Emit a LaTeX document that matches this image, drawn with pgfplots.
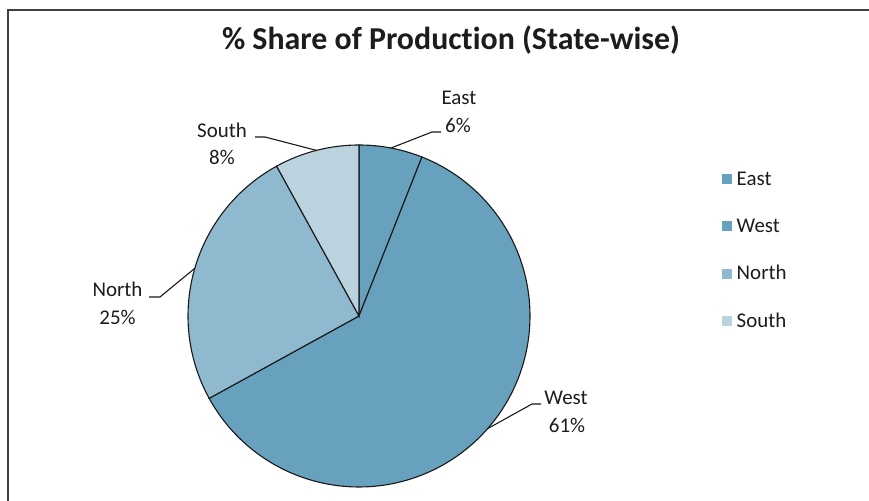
\documentclass[border=0pt]{standalone}
\usepackage{pgfplots}
\pgfplotsset{compat=1.18}
\usepackage{fontspec}
\setmainfont{Carlito}[Ligatures=NoCommon]
\definecolor{eastc}{RGB}{104,161,189}
\definecolor{westc}{RGB}{104,161,189}
\definecolor{northc}{RGB}{143,185,206}
\definecolor{southc}{RGB}{187,210,223}
\definecolor{txt}{RGB}{28,28,28}
% data (percent share)
\def\vEast{6}
\def\vWest{61}
\def\vNorth{25}
\def\vSouth{8}
\pgfmathsetmacro{\aA}{90}
\pgfmathsetmacro{\aB}{\aA-3.6*\vEast}
\pgfmathsetmacro{\aC}{\aB-3.6*\vWest}
\pgfmathsetmacro{\aD}{\aC-3.6*\vNorth}
\pgfmathsetmacro{\aE}{\aD-3.6*\vSouth}
\begin{document}
\begin{tikzpicture}
\begin{axis}[
  width=869bp, height=501bp, scale only axis,
  xmin=0, xmax=869, ymin=0, ymax=501,
  hide axis, clip=false,
  legend style={at={(axis cs:722,331)}, anchor=north west, draw=none, fill=none,
    font=\fontsize{21}{25}\selectfont, text=txt, row sep=27.3bp, column sep=4.5bp,
    inner sep=0pt, nodes={inner sep=0pt, text height=15bp, text depth=5bp}},
  legend cell align=left,
  legend image code/.code={\fill[#1,draw=none] (0bp,-4bp) rectangle (10bp,6bp);},
]
\addplot[fill=eastc, draw=black!90, line width=1.1bp, domain=\aB:\aA, samples=30, variable=\t]
  ({359+171*cos(\t)},{185+171*sin(\t)}) -- (359,185) -- cycle;
\addlegendentry{East}
\addplot[fill=westc, draw=black!90, line width=1.1bp, domain=\aC:\aB, samples=120, variable=\t]
  ({359+171*cos(\t)},{185+171*sin(\t)}) -- (359,185) -- cycle;
\addlegendentry{West}
\addplot[fill=northc, draw=black!90, line width=1.1bp, domain=\aD:\aC, samples=60, variable=\t]
  ({359+171*cos(\t)},{185+171*sin(\t)}) -- (359,185) -- cycle;
\addlegendentry{North}
\addplot[fill=southc, draw=black!90, line width=1.1bp, domain=\aE:\aD, samples=30, variable=\t]
  ({359+171*cos(\t)},{185+171*sin(\t)}) -- (359,185) -- cycle;
\addlegendentry{South}
% leader lines
\addplot[forget plot, black!90, line width=1.1bp] coordinates {(391,353) (432,369) (441,369)};
\addplot[forget plot, black!90, line width=1.1bp] coordinates {(487,72) (532,97) (541,97)};
\addplot[forget plot, black!90, line width=1.1bp] coordinates {(255,364) (265,364) (316.5,350.6)};
\addplot[forget plot, black!90, line width=1.1bp] coordinates {(149,204) (160,204) (194.8,232.7)};
% chart frame
\addplot[forget plot, black!75, line width=1.2bp] coordinates {(8,0) (8,491) (869,491)};
% labels
\begin{scope}[every node/.style={text=txt, font=\fontsize{21}{25}\selectfont, inner sep=0pt, anchor=base}]
\node at (axis cs:459,396) {East};
\node at (axis cs:458,368) {6\%};
\node at (axis cs:566,96) {West};
\node at (axis cs:567,68) {61\%};
\node at (axis cs:222,363) {South};
\node at (axis cs:222,336) {8\%};
\node at (axis cs:117.5,204) {North};
\node at (axis cs:117.5,176) {25\%};
\end{scope}
\node[text=txt, font=\fontsize{32}{38}\selectfont\bfseries, inner sep=0pt, anchor=base] at (axis cs:451,451) {\% Share of Production (State-wise)};
\end{axis}
\pgfresetboundingbox
\path[use as bounding box] (current axis.south west) rectangle (current axis.north east);
\end{tikzpicture}
\end{document}
